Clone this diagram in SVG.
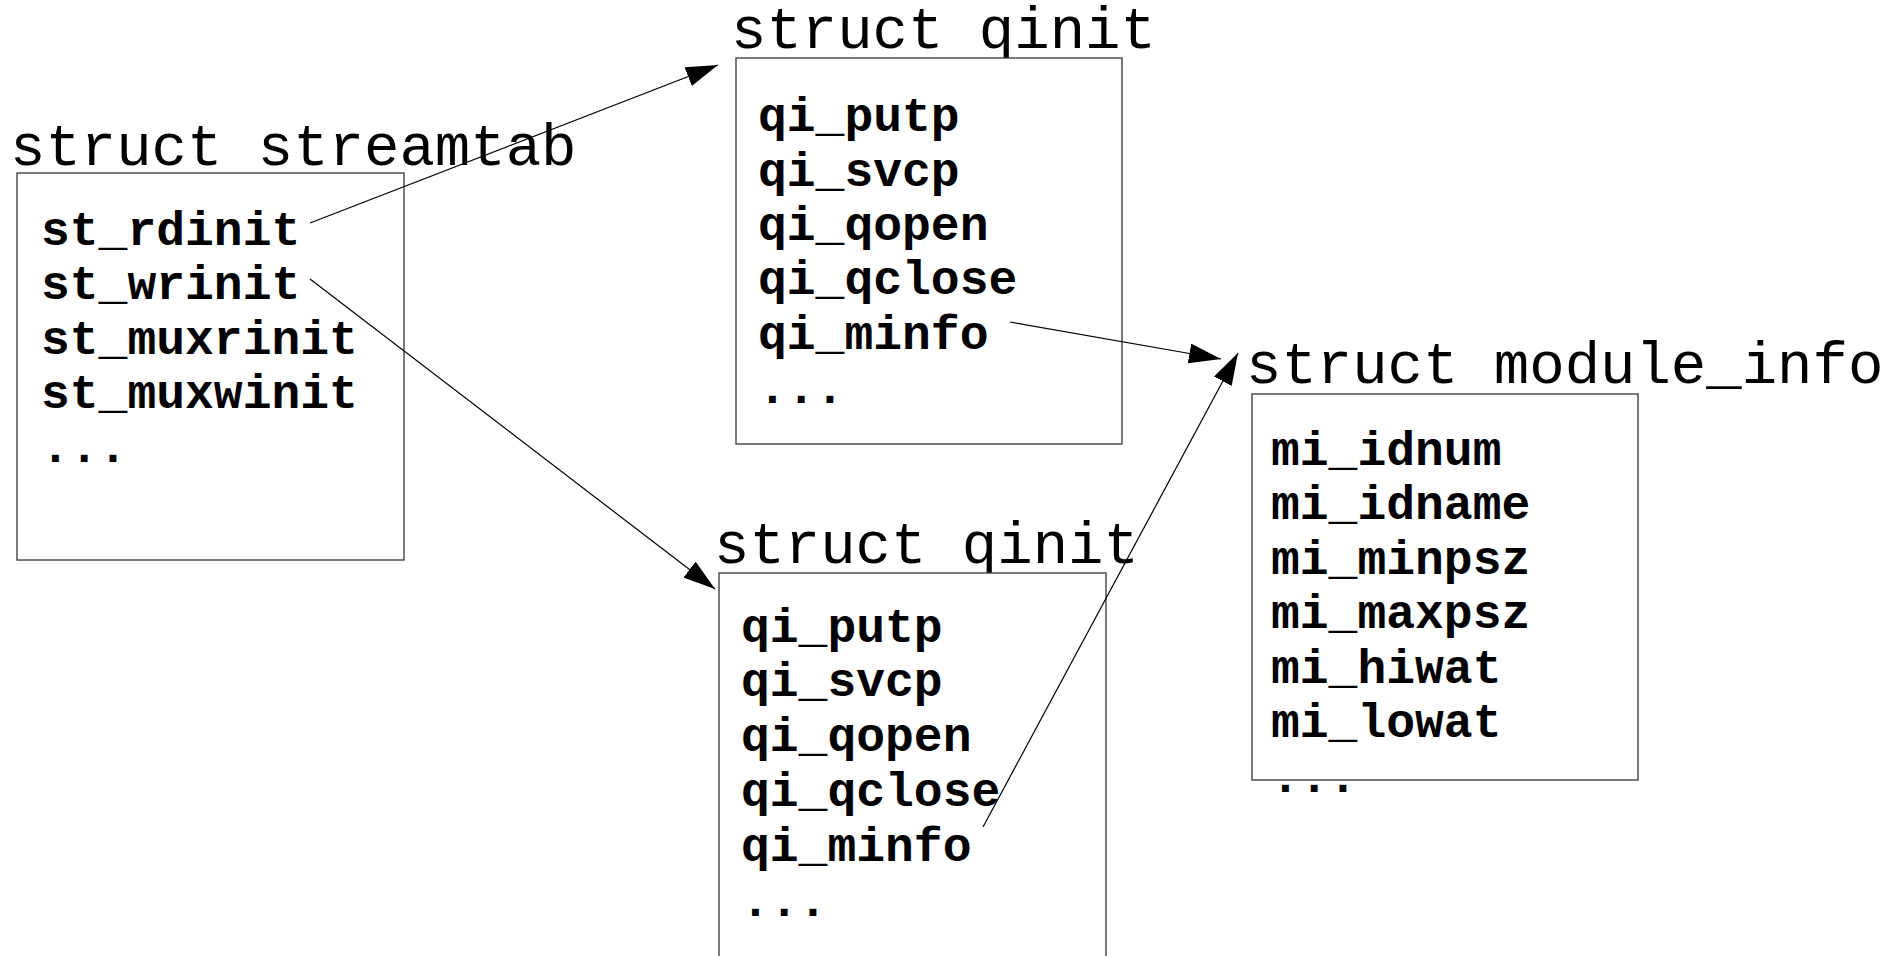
<svg xmlns="http://www.w3.org/2000/svg" width="1894" height="956" viewBox="0 0 1894 956">
<style>
.box{fill:#fff;stroke:#444;stroke-width:1.4}
.title{font-family:"Liberation Mono","Courier New",monospace;font-size:59px;fill:#000}
.field{font-family:"Liberation Mono","Courier New",monospace;font-size:48px;font-weight:bold;fill:#000}
.conn{stroke:#000;stroke-width:1.2;fill:none;marker-end:url(#arrow)}
</style>
<defs>
<marker id="arrow" viewBox="0 0 32 20" refX="32" refY="10" markerWidth="32" markerHeight="20" markerUnits="userSpaceOnUse" orient="auto">
<path d="M0,0 L32,10 L0,20 z" fill="#000"/>
</marker>
</defs>
<rect width="1894" height="956" fill="#fff"/>
<g id="streamtab">
<text class="title" x="10" y="165">struct streamtab</text>
<rect class="box" x="17" y="173" width="387" height="387"/>
<text class="field" x="41" y="245">st_rdinit</text>
<text class="field" x="41" y="299.3">st_wrinit</text>
<text class="field" x="41" y="353.6">st_muxrinit</text>
<text class="field" x="41" y="407.9">st_muxwinit</text>
<text class="field" x="41" y="462">...</text>
</g>
<g id="qinit_top">
<text class="title" x="731" y="48">struct qinit</text>
<rect class="box" x="736" y="58" width="386" height="386"/>
<text class="field" x="758" y="131">qi_putp</text>
<text class="field" x="758" y="185.5">qi_svcp</text>
<text class="field" x="758" y="240">qi_qopen</text>
<text class="field" x="758" y="294">qi_qclose</text>
<text class="field" x="758" y="348.5">qi_minfo</text>
<text class="field" x="758" y="403">...</text>
</g>
<g id="qinit_bottom">
<text class="title" x="714" y="563">struct qinit</text>
<rect class="box" x="719" y="573" width="387" height="387"/>
<text class="field" x="741" y="642">qi_putp</text>
<text class="field" x="741" y="696">qi_svcp</text>
<text class="field" x="741" y="751">qi_qopen</text>
<text class="field" x="741" y="806">qi_qclose</text>
<text class="field" x="741" y="861">qi_minfo</text>
<text class="field" x="741" y="916">...</text>
</g>
<g id="module_info">
<text class="title" x="1246" y="383">struct module_info</text>
<rect class="box" x="1252" y="394" width="386" height="386"/>
<text class="field" x="1271" y="464.5">mi_idnum</text>
<text class="field" x="1271" y="519">mi_idname</text>
<text class="field" x="1271" y="573.5">mi_minpsz</text>
<text class="field" x="1271" y="628">mi_maxpsz</text>
<text class="field" x="1271" y="682.5">mi_hiwat</text>
<text class="field" x="1271" y="737">mi_lowat</text>
<text class="field" x="1271" y="792">...</text>
</g>
<g id="connectors">
<line class="conn" x1="310" y1="223" x2="718" y2="65"/>
<line class="conn" x1="310" y1="279" x2="715" y2="589"/>
<line class="conn" x1="1010" y1="322" x2="1221" y2="359"/>
<line class="conn" x1="983" y1="827" x2="1238" y2="353"/>
</g>
</svg>
